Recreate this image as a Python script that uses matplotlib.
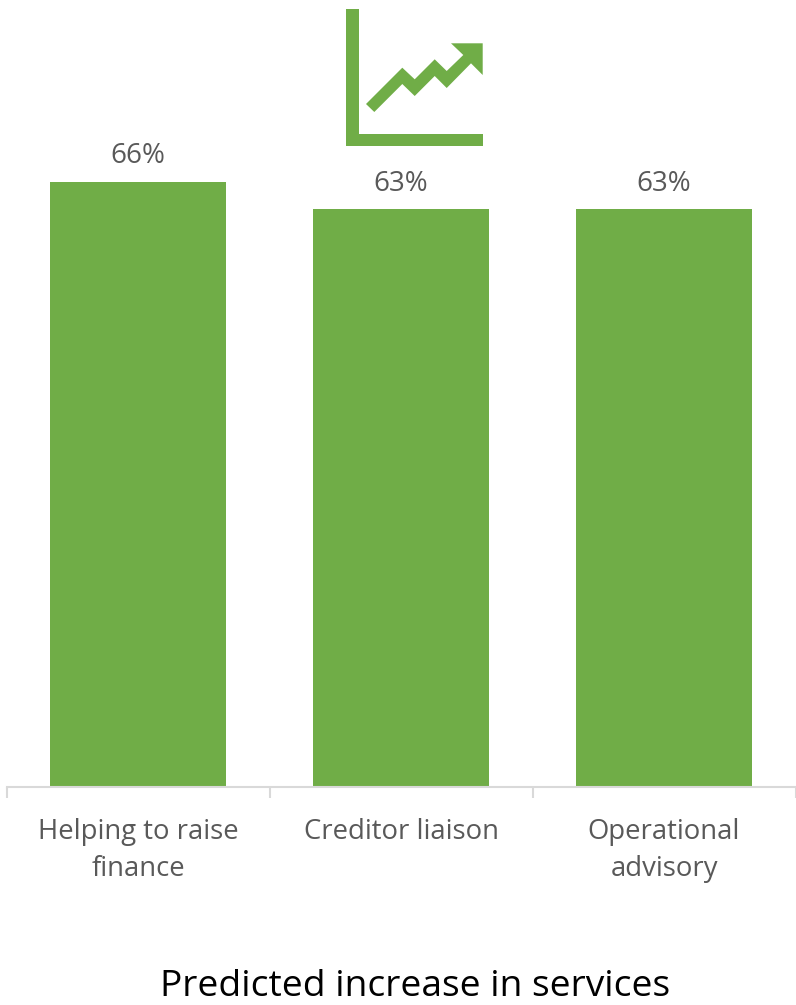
import matplotlib
matplotlib.use("Agg")
import matplotlib.pyplot as plt
from matplotlib.patches import Polygon

categories = ["Helping to raise\nfinance", "Creditor liaison", "Operational\nadvisory"]
values = [66, 63, 63]
value_labels = ["66%", "63%", "63%"]
title = "Predicted increase in services"

GREEN = "#70AD47"
TEXT = "#595959"
AXIS = "#D9D9D9"
W, H = 796, 1005

plt.rcParams["font.family"] = ["Open Sans", "DejaVu Sans"]

fig = plt.figure(figsize=(W / 100, H / 100), dpi=100, facecolor="white")
ax = fig.add_axes([6.5 / W, 1 - 787 / H, 789 / W, 605 / H])
ax.bar(range(len(values)), values, width=0.67, color=GREEN, linewidth=0)
ax.set_xlim(-0.5, 2.5)
ax.set_ylim(0, 66)
ax.patch.set_alpha(0)

for side in ("top", "left", "right"):
    ax.spines[side].set_visible(False)
ax.spines["bottom"].set_color(AXIS)
ax.spines["bottom"].set_linewidth(1.5)
ax.set_yticks([])
ax.set_xticks([-0.5, 0.5, 1.5, 2.5])
ax.set_xticklabels([])
ax.tick_params(axis="x", length=8, width=1.5, color=AXIS)

for i, (v, lab) in enumerate(zip(values, value_labels)):
    ax.annotate(lab, (i, v), xytext=(0, 8.5), textcoords="offset points",
                ha="center", va="bottom", fontsize=20, color=TEXT)
    ax.annotate(categories[i], (i, 0), xytext=(0, -22.5), textcoords="offset points",
                ha="center", va="top", fontsize=19.8, color=TEXT, linespacing=1.43)

fig.text(415 / W, 1 - 986.5 / H, title, ha="center", va="center", fontsize=26.7, color="black")


def px(points):
    # Pixel positions measured from the top-left corner of the figure
    return [(x / W, 1 - y / H) for x, y in points]


# Small growth-chart icon above the middle bar
frame = [(346, 9), (358.7, 9), (358.7, 134), (482.7, 134), (482.7, 145.7), (346, 145.7)]
arrow = [(366, 104), (402.3, 67.7), (414.7, 79.3), (434.7, 59.3), (446.7, 71),
         (463.3, 55), (451, 43.3), (482.7, 43.3), (482.7, 75), (471, 63.3),
         (446.7, 88), (434.7, 76), (414.7, 96), (402.3, 84), (374.3, 112)]
for pts in (frame, arrow):
    fig.add_artist(Polygon(px(pts), closed=True, facecolor=GREEN, edgecolor="none",
                           transform=fig.transFigure))

fig.savefig("out.png", dpi=100, facecolor="white")
